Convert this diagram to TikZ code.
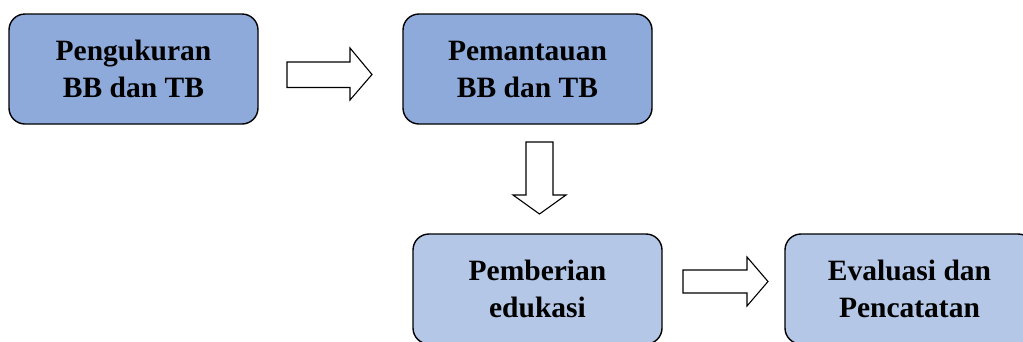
\documentclass[tikz,border=0pt]{standalone}
\usepackage{fontspec}
\setmainfont{Liberation Serif}
\definecolor{boxtop}{HTML}{8EAADB}
\definecolor{boxbot}{HTML}{B4C7E7}
\tikzset{
  stepbox/.style={draw=black, line width=1.4pt, rounded corners=16pt,
    minimum width=249pt, minimum height=110pt, align=center,
    font=\bfseries\fontsize{29.5}{37}\selectfont, inner sep=0pt},
  blockarrow/.style={draw=black, line width=1.1pt, fill=white, line join=miter}
}
\begin{document}
\begin{tikzpicture}[x=1pt,y=-1pt]
\useasboundingbox (0,0) rectangle (1023,341);
\clip (0,0) rectangle (1023,341);
\node[stepbox, fill=boxtop] (a) at (133.5,69) {Pengukuran\\BB dan TB};
\node[stepbox, fill=boxtop] (b) at (527.5,69) {Pemantauan\\BB dan TB};
\node[stepbox, fill=boxbot] (c) at (537.5,289) {Pemberian\\edukasi};
\node[stepbox, fill=boxbot] (d) at (909.5,289) {Evaluasi dan\\Pencatatan};
% block arrows
\draw[blockarrow] (287,62) -- (350,62) -- (350,48) -- (372,74.5) -- (350,100) -- (350,87.5) -- (287,87.5) -- cycle;
\draw[blockarrow] (526,142) -- (553,142) -- (553,195) -- (566,195) -- (539.5,214) -- (513,195) -- (526,195) -- cycle;
\draw[blockarrow] (683,270) -- (747,270) -- (747,257) -- (768,281.5) -- (747,306) -- (747,293) -- (683,293) -- cycle;
\end{tikzpicture}
\end{document}
